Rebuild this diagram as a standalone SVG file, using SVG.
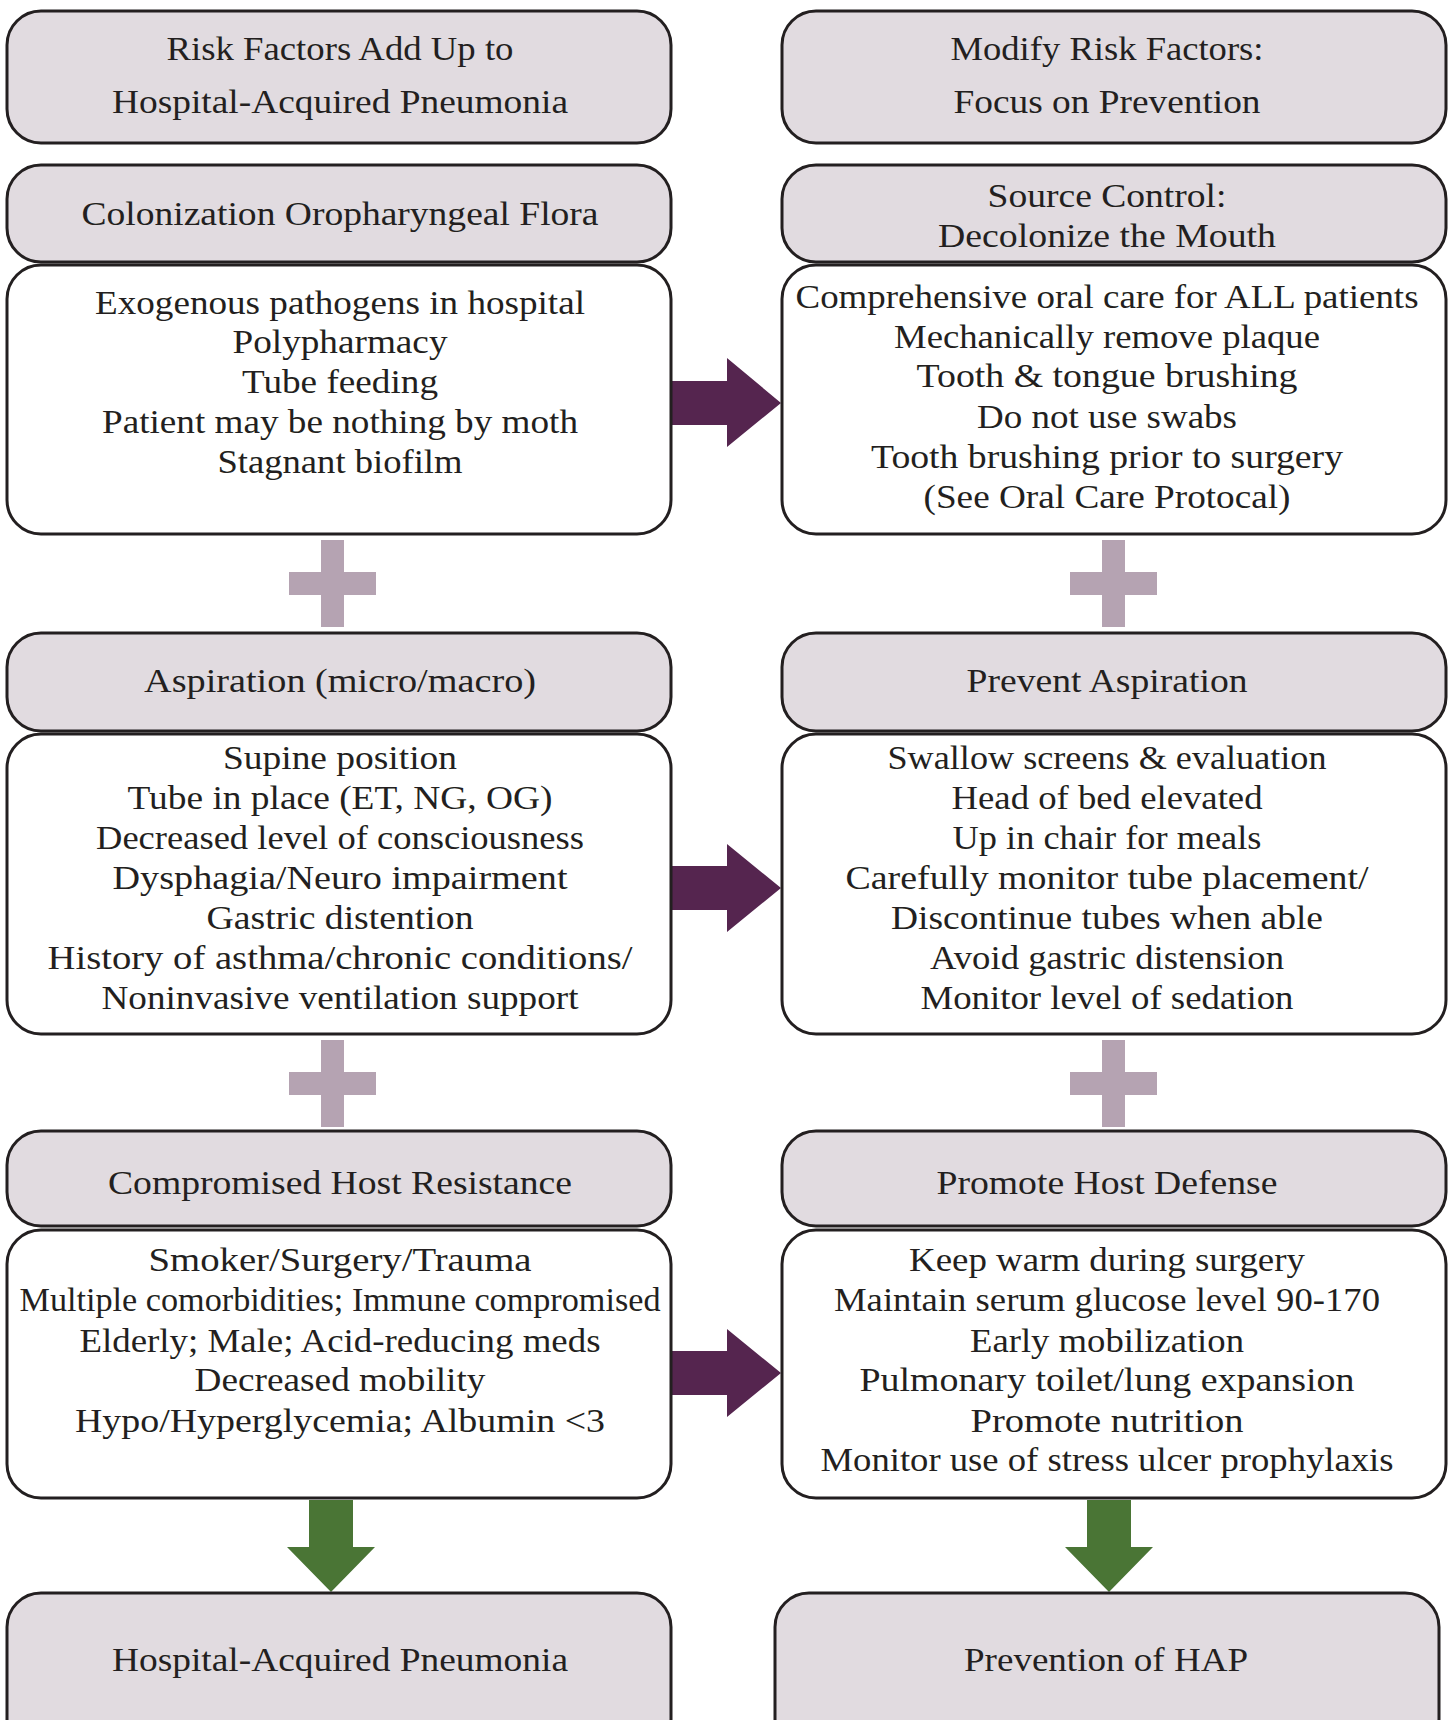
<svg xmlns="http://www.w3.org/2000/svg" width="1448" height="1720" viewBox="0 0 1448 1720">
<style>
.hd{fill:#e1dbe0;stroke:#231f20;stroke-width:3}
.bd{fill:#ffffff;stroke:#231f20;stroke-width:3}
text{font-family:"Liberation Serif","Times New Roman",serif;font-size:33px;fill:#231f20;text-anchor:middle}
.plus{fill:#b5a3b2}
.parr{fill:#55254f}
.garr{fill:#4a7535}
</style>
<rect width="1448" height="1720" fill="#ffffff"/>
<g id="connectors">
  <path class="plus" d="M321,540H344V572H376V595H344V627H321V595H289V572H321Z"/>
  <path class="plus" d="M1102,540H1125V572H1157V595H1125V627H1102V595H1070V572H1102Z"/>
  <path class="plus" d="M321,1040H344V1072H376V1095H344V1127H321V1095H289V1072H321Z"/>
  <path class="plus" d="M1102,1040H1125V1072H1157V1095H1125V1127H1102V1095H1070V1072H1102Z"/>
  <path class="parr" d="M672,381H727V358L781,403L727,447V425H672Z"/>
  <path class="parr" d="M672,866H727V844L781,888L727,932V910H672Z"/>
  <path class="parr" d="M672,1351H727V1329L781,1373L727,1417V1395H672Z"/>
  <path class="garr" d="M309,1500H353V1547H375L331,1592L287,1547H309Z"/>
  <path class="garr" d="M1087,1500H1131V1547H1153L1109,1592L1065,1547H1087Z"/>
</g>
<g id="n-risk-title">
  <rect class="hd" x="7" y="11" width="664" height="132" rx="34"/>
  <text x="340" y="60" textLength="347" lengthAdjust="spacingAndGlyphs">Risk Factors Add Up to</text>
  <text x="340" y="113" textLength="456" lengthAdjust="spacingAndGlyphs">Hospital-Acquired Pneumonia</text>
</g>
<g id="n-modify-title">
  <rect class="hd" x="782" y="11" width="664" height="132" rx="34"/>
  <text x="1107" y="60" textLength="313" lengthAdjust="spacingAndGlyphs">Modify Risk Factors:</text>
  <text x="1107" y="113" textLength="307" lengthAdjust="spacingAndGlyphs">Focus on Prevention</text>
</g>
<g id="n-colonization">
  <rect class="hd" x="7" y="165" width="664" height="97" rx="34"/>
  <text x="340" y="225" textLength="517" lengthAdjust="spacingAndGlyphs">Colonization Oropharyngeal Flora</text>
</g>
<g id="n-colonization-body">
  <rect class="bd" x="7" y="265" width="664" height="269" rx="34"/>
  <text x="340" y="314" textLength="490" lengthAdjust="spacingAndGlyphs">Exogenous pathogens in hospital</text>
  <text x="340" y="353" textLength="215" lengthAdjust="spacingAndGlyphs">Polypharmacy</text>
  <text x="340" y="393" textLength="196" lengthAdjust="spacingAndGlyphs">Tube feeding</text>
  <text x="340" y="433" textLength="476" lengthAdjust="spacingAndGlyphs">Patient may be nothing by moth</text>
  <text x="340" y="473" textLength="245" lengthAdjust="spacingAndGlyphs">Stagnant biofilm</text>
</g>
<g id="n-source">
  <rect class="hd" x="782" y="165" width="664" height="97" rx="34"/>
  <text x="1107" y="207" textLength="239" lengthAdjust="spacingAndGlyphs">Source Control:</text>
  <text x="1107" y="247" textLength="338" lengthAdjust="spacingAndGlyphs">Decolonize the Mouth</text>
</g>
<g id="n-source-body">
  <rect class="bd" x="782" y="265" width="664" height="269" rx="34"/>
  <text x="1107" y="308" textLength="623" lengthAdjust="spacingAndGlyphs">Comprehensive oral care for ALL patients</text>
  <text x="1107" y="348" textLength="426" lengthAdjust="spacingAndGlyphs">Mechanically remove plaque</text>
  <text x="1107" y="387" textLength="381" lengthAdjust="spacingAndGlyphs">Tooth &amp; tongue brushing</text>
  <text x="1107" y="428" textLength="260" lengthAdjust="spacingAndGlyphs">Do not use swabs</text>
  <text x="1107" y="468" textLength="472" lengthAdjust="spacingAndGlyphs">Tooth brushing prior to surgery</text>
  <text x="1107" y="508" textLength="367" lengthAdjust="spacingAndGlyphs">(See Oral Care Protocal)</text>
</g>
<g id="n-aspiration">
  <rect class="hd" x="7" y="633" width="664" height="98" rx="34"/>
  <text x="340" y="692" textLength="392" lengthAdjust="spacingAndGlyphs">Aspiration (micro/macro)</text>
</g>
<g id="n-aspiration-body">
  <rect class="bd" x="7" y="734" width="664" height="300" rx="34"/>
  <text x="340" y="769" textLength="234" lengthAdjust="spacingAndGlyphs">Supine position</text>
  <text x="340" y="809" textLength="425" lengthAdjust="spacingAndGlyphs">Tube in place (ET, NG, OG)</text>
  <text x="340" y="849" textLength="488" lengthAdjust="spacingAndGlyphs">Decreased level of consciousness</text>
  <text x="340" y="889" textLength="455" lengthAdjust="spacingAndGlyphs">Dysphagia/Neuro impairment</text>
  <text x="340" y="929" textLength="267" lengthAdjust="spacingAndGlyphs">Gastric distention</text>
  <text x="340" y="969" textLength="585" lengthAdjust="spacingAndGlyphs">History of asthma/chronic conditions/</text>
  <text x="340" y="1009" textLength="477" lengthAdjust="spacingAndGlyphs">Noninvasive ventilation support</text>
</g>
<g id="n-prevent-aspiration">
  <rect class="hd" x="782" y="633" width="664" height="98" rx="34"/>
  <text x="1107" y="692" textLength="281" lengthAdjust="spacingAndGlyphs">Prevent Aspiration</text>
</g>
<g id="n-prevent-aspiration-body">
  <rect class="bd" x="782" y="734" width="664" height="300" rx="34"/>
  <text x="1107" y="769" textLength="439" lengthAdjust="spacingAndGlyphs">Swallow screens &amp; evaluation</text>
  <text x="1107" y="809" textLength="311" lengthAdjust="spacingAndGlyphs">Head of bed elevated</text>
  <text x="1107" y="849" textLength="309" lengthAdjust="spacingAndGlyphs">Up in chair for meals</text>
  <text x="1107" y="889" textLength="523" lengthAdjust="spacingAndGlyphs">Carefully monitor tube placement/</text>
  <text x="1107" y="929" textLength="432" lengthAdjust="spacingAndGlyphs">Discontinue tubes when able</text>
  <text x="1107" y="969" textLength="354" lengthAdjust="spacingAndGlyphs">Avoid gastric distension</text>
  <text x="1107" y="1009" textLength="373" lengthAdjust="spacingAndGlyphs">Monitor level of sedation</text>
</g>
<g id="n-host-resistance">
  <rect class="hd" x="7" y="1131" width="664" height="95" rx="34"/>
  <text x="340" y="1194" textLength="464" lengthAdjust="spacingAndGlyphs">Compromised Host Resistance</text>
</g>
<g id="n-host-resistance-body">
  <rect class="bd" x="7" y="1230" width="664" height="268" rx="34"/>
  <text x="340" y="1271" textLength="383" lengthAdjust="spacingAndGlyphs">Smoker/Surgery/Trauma</text>
  <text x="340" y="1311" textLength="641" lengthAdjust="spacingAndGlyphs">Multiple comorbidities; Immune compromised</text>
  <text x="340" y="1352" textLength="521" lengthAdjust="spacingAndGlyphs">Elderly; Male; Acid-reducing meds</text>
  <text x="340" y="1391" textLength="291" lengthAdjust="spacingAndGlyphs">Decreased mobility</text>
  <text x="340" y="1432" textLength="530" lengthAdjust="spacingAndGlyphs">Hypo/Hyperglycemia; Albumin &lt;3</text>
</g>
<g id="n-host-defense">
  <rect class="hd" x="782" y="1131" width="664" height="95" rx="34"/>
  <text x="1107" y="1194" textLength="341" lengthAdjust="spacingAndGlyphs">Promote Host Defense</text>
</g>
<g id="n-host-defense-body">
  <rect class="bd" x="782" y="1230" width="664" height="268" rx="34"/>
  <text x="1107" y="1271" textLength="396" lengthAdjust="spacingAndGlyphs">Keep warm during surgery</text>
  <text x="1107" y="1311" textLength="546" lengthAdjust="spacingAndGlyphs">Maintain serum glucose level 90-170</text>
  <text x="1107" y="1352" textLength="274" lengthAdjust="spacingAndGlyphs">Early mobilization</text>
  <text x="1107" y="1391" textLength="495" lengthAdjust="spacingAndGlyphs">Pulmonary toilet/lung expansion</text>
  <text x="1107" y="1432" textLength="273" lengthAdjust="spacingAndGlyphs">Promote nutrition</text>
  <text x="1107" y="1471" textLength="573" lengthAdjust="spacingAndGlyphs">Monitor use of stress ulcer prophylaxis</text>
</g>
<g id="n-hap">
  <rect class="hd" x="7" y="1593" width="664" height="160" rx="34"/>
  <text x="340" y="1671" textLength="456" lengthAdjust="spacingAndGlyphs">Hospital-Acquired Pneumonia</text>
</g>
<g id="n-prevention-hap">
  <rect class="hd" x="775" y="1593" width="664" height="160" rx="34"/>
  <text x="1106" y="1671" textLength="284" lengthAdjust="spacingAndGlyphs">Prevention of HAP</text>
</g>
</svg>
